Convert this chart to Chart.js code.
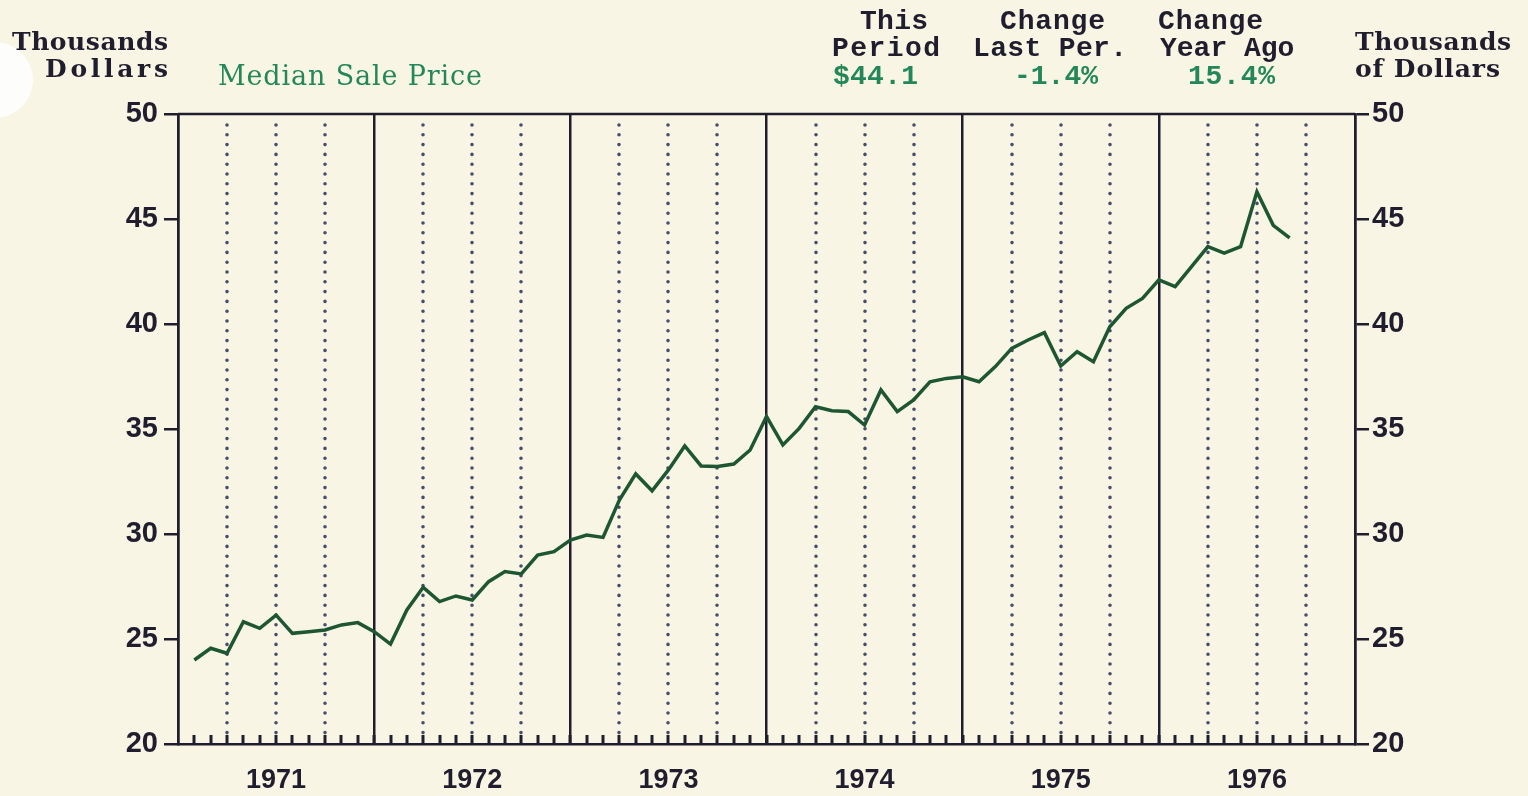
<!DOCTYPE html>
<html>
<head>
<meta charset="utf-8">
<script src="https://cdn.jsdelivr.net/npm/chart.js@4.4.1/dist/chart.umd.min.js"></script>
<style>
html,body{margin:0;padding:0;background:#f8f5e4;overflow:hidden;}
#wrap{position:relative;width:1528px;height:796px;}
canvas{display:block;}
</style>
</head>
<body>
<div id="wrap"><canvas id="c" width="1528" height="796"></canvas></div>
<script>
// ---- data ----
const years = ['1971', '1972', '1973', '1974', '1975', '1976'];
const firstMonthOffset = 1; // first observation: one month after start of 1971
const medianPrice = [
  24.0, 24.56, 24.32, 25.82, 25.51, 26.14, 25.27, 25.35, 25.43, 25.67, 25.78, 25.35,
  24.76, 26.38, 27.46, 26.78, 27.05, 26.86, 27.73, 28.21, 28.10, 29.0, 29.16, 29.71,
  29.95, 29.84, 31.62, 32.86, 32.06, 33.05, 34.19, 33.24, 33.21, 33.33, 34.0, 35.6,
  34.24, 35.03, 36.06, 35.87, 35.83, 35.19, 36.86, 35.83, 36.38, 37.25, 37.41, 37.49,
  37.25, 37.97, 38.84, 39.24, 39.59, 38.0, 38.68, 38.2, 39.87, 40.75, 41.22, 42.1,
  41.78, 42.73, 43.68, 43.37, 43.68, 46.3, 44.7, 44.1
];
const yMin = 20, yMax = 50, yStep = 5;
const seriesName = 'Median Sale Price';
const statHeads1 = ['This', 'Change', 'Change'];
const statHeads2 = ['Period', 'Last Per.', 'Year Ago'];
const statValues = ['$44.1', '-1.4%', '15.4%'];
const leftUnit = ['Thousands', 'Dollars'];
const rightUnit = ['Thousands', 'of Dollars'];

// ---- styling ----
const BG = '#f8f5e4';
const INK = '#201e2e';
const GREEN = '#23875a';
const LINE = '#1e5634';
const DOT = '#474d6c';
const monthsTotal = years.length * 12;

const points = medianPrice.map((v, i) => ({ x: i + firstMonthOffset, y: v }));

function drawFit(ctx, s, left, base, w, font, color) {
  ctx.save();
  ctx.font = font;
  ctx.fillStyle = color;
  ctx.textAlign = 'left';
  ctx.textBaseline = 'alphabetic';
  const m = ctx.measureText(s).width;
  if (w && s.length > 1 && ('letterSpacing' in ctx)) {
    const ls = Math.max(0, (w - m) / (s.length - 1));
    ctx.letterSpacing = ls + 'px';
  }
  ctx.fillText(s, left, base);
  ctx.restore();
}

const decor = {
  id: 'decor',
  beforeDraw(chart) {
    const ctx = chart.ctx;
    ctx.save();
    ctx.fillStyle = BG;
    ctx.fillRect(0, 0, chart.width, chart.height);
    // hole punch
    ctx.fillStyle = '#fdfdfb';
    ctx.beginPath();
    ctx.arc(-5, 80, 38, 0, Math.PI * 2);
    ctx.fill();
    ctx.restore();
  },
  beforeDatasetsDraw(chart) {
    const ctx = chart.ctx;
    const xs = chart.scales.x;
    const a = chart.chartArea;
    ctx.save();
    // quarterly dotted lines
    ctx.strokeStyle = DOT;
    ctx.lineWidth = 3.6;
    ctx.lineCap = 'round';
    ctx.setLineDash([0, 9.8]);
    for (let q = 3; q < monthsTotal; q += 3) {
      if (q % 12 === 0) continue;
      const x = Math.round(xs.getPixelForValue(q));
      ctx.beginPath();
      ctx.moveTo(x, a.top + 11);
      ctx.lineTo(x, a.bottom - 4);
      ctx.stroke();
    }
    ctx.setLineDash([]);
    ctx.lineCap = 'butt';
    // monthly tick marks, pointing inward
    ctx.strokeStyle = INK;
    ctx.lineWidth = 3;
    for (let m = 1; m < monthsTotal; m++) {
      const x = Math.round(xs.getPixelForValue(m));
      ctx.beginPath();
      ctx.moveTo(x, a.bottom);
      ctx.lineTo(x, a.bottom - 9);
      ctx.stroke();
    }
    // top frame line
    ctx.lineWidth = 2.5;
    ctx.beginPath();
    ctx.moveTo(a.left, a.top);
    ctx.lineTo(a.right, a.top);
    ctx.stroke();
    ctx.restore();
  },
  afterDraw(chart) {
    const ctx = chart.ctx;
    const serifB = 'bold 25px "DejaVu Serif"';
    const serif = '27px "DejaVu Serif"';
    const mono = 'bold 28px "Liberation Mono"';
    drawFit(ctx, leftUnit[0], 12, 50, 156, serifB, INK);
    drawFit(ctx, leftUnit[1], 45, 77, 123, serifB, INK);
    drawFit(ctx, seriesName, 218, 85, 264, serif, GREEN);
    // stats block
    const h1 = [[860, 68], [1000, 105], [1158, 105]];
    const h2 = [[832, 108], [973, 154], [1160, 131]];
    const h3 = [[833, 85], [1014, 84], [1188, 87]];
    for (let i = 0; i < 3; i++) {
      drawFit(ctx, statHeads1[i], h1[i][0], 29, h1[i][1], mono, INK);
      drawFit(ctx, statHeads2[i], h2[i][0], 56, h2[i][1], mono, INK);
      drawFit(ctx, statValues[i], h3[i][0], 84, h3[i][1], mono, GREEN);
    }
    drawFit(ctx, rightUnit[0], 1355, 50, 156, serifB, INK);
    drawFit(ctx, rightUnit[1], 1355, 77, 145, serifB, INK);
  }
};

const tickFont = { family: '"Liberation Sans", Arial, sans-serif', size: 29, weight: 'bold' };
const yearFont = { family: '"Liberation Sans", Arial, sans-serif', size: 27, weight: 'bold' };

new Chart(document.getElementById('c'), {
  type: 'line',
  data: {
    datasets: [{
      label: seriesName,
      data: points,
      borderColor: LINE,
      borderWidth: 3.5,
      pointRadius: 0,
      tension: 0,
      yAxisID: 'y'
    }]
  },
  options: {
    responsive: false,
    animation: false,
    devicePixelRatio: 1,
    layout: { padding: { top: 114, left: 0, right: 0, bottom: 0 } },
    plugins: { legend: { display: false }, tooltip: { enabled: false } },
    scales: {
      x: {
        type: 'linear',
        min: 0,
        max: monthsTotal,
        afterFit: s => { s.height = 52; },
        ticks: {
          stepSize: 1,
          autoSkip: false,
          maxRotation: 0,
          minRotation: 0,
          maxTicksLimit: 200,
          padding: 20,
          color: INK,
          font: yearFont,
          callback: v => (v % 12 === 6 ? years[(v - 6) / 12] : '')
        },
        grid: {
          drawTicks: false,
          lineWidth: 2.5,
          color: c => (c.tick && c.tick.value % 12 === 0 ? INK : 'rgba(0,0,0,0)')
        },
        border: { display: true, color: INK, width: 2.5 }
      },
      y: {
        position: 'left',
        min: yMin,
        max: yMax,
        afterFit: s => { s.width = 178; },
        ticks: { stepSize: yStep, padding: 6, color: INK, font: tickFont },
        grid: { drawOnChartArea: false, drawTicks: true, tickLength: 14, lineWidth: 2.5, color: INK },
        border: { display: true, color: INK, width: 2.5 }
      },
      y2: {
        position: 'right',
        min: yMin,
        max: yMax,
        afterFit: s => { s.width = 173; },
        ticks: { stepSize: yStep, padding: 3, color: INK, font: tickFont },
        grid: { drawOnChartArea: false, drawTicks: true, tickLength: 14, lineWidth: 2.5, color: INK },
        border: { display: true, color: INK, width: 2.5 }
      }
    }
  },
  plugins: [decor]
});
</script>
</body>
</html>
